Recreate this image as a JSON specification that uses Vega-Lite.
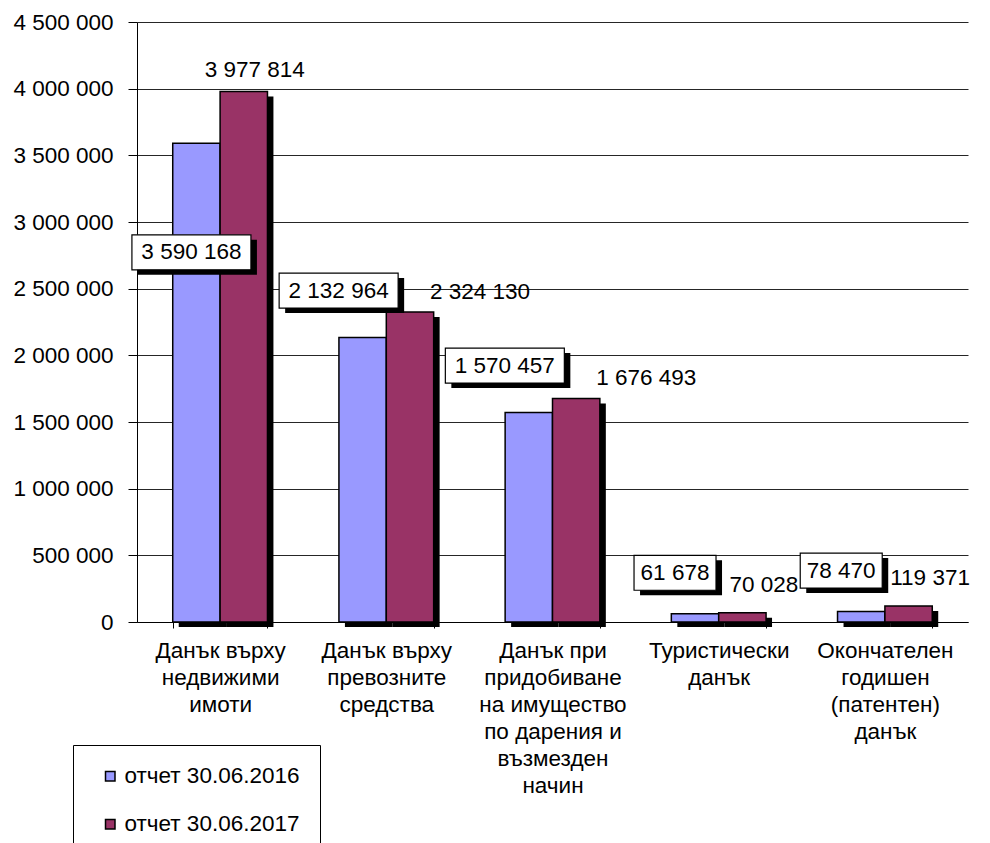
{
  "$schema": "https://vega.github.io/schema/vega-lite/v6.json",
  "width": 831,
  "height": 600,
  "autosize": "none",
  "padding": {"left": 137, "top": 22, "right": 22, "bottom": 221},
  "background": "white",
  "config": {
    "font": "Liberation Sans",
    "view": {"stroke": null},
    "axis": {"labelFont": "Liberation Sans", "labelColor": "#000", "domainColor": "#000", "tickColor": "#000"},
    "text": {"fontSize": 22.5, "color": "#000", "align": "center", "baseline": "middle"},
    "point": {"filled": true, "opacity": 1, "size": 14161}
  },
  "data": {
    "values": [
      {"cat": "Данък върху|недвижими|имоти", "series": "отчет 30.06.2016", "v": 3590168},
      {"cat": "Данък върху|недвижими|имоти", "series": "отчет 30.06.2017", "v": 3977814},
      {"cat": "Данък върху|превозните|средства", "series": "отчет 30.06.2016", "v": 2132964},
      {"cat": "Данък върху|превозните|средства", "series": "отчет 30.06.2017", "v": 2324130},
      {"cat": "Данък при|придобиване|на имущество|по дарения и|възмезден|начин", "series": "отчет 30.06.2016", "v": 1570457},
      {"cat": "Данък при|придобиване|на имущество|по дарения и|възмезден|начин", "series": "отчет 30.06.2017", "v": 1676493},
      {"cat": "Туристически|данък", "series": "отчет 30.06.2016", "v": 61678},
      {"cat": "Туристически|данък", "series": "отчет 30.06.2017", "v": 70028},
      {"cat": "Окончателен|годишен|(патентен)|данък", "series": "отчет 30.06.2016", "v": 78470},
      {"cat": "Окончателен|годишен|(патентен)|данък", "series": "отчет 30.06.2017", "v": 119371}
    ]
  },
  "transform": [
    {"calculate": "replace(replace(format(datum.v, ','), ',', ' '), ',', ' ')", "as": "label"}
  ],
  "resolve": {"scale": {"xOffset": "independent"}},
  "encoding": {
    "x": {
      "field": "cat", "type": "nominal", "sort": null,
      "scale": {"paddingInner": 0.43, "paddingOuter": 0.215},
      "axis": {
        "title": null, "labelAngle": 0, "labelFontSize": 22.5, "labelLineHeight": 27,
        "labelPadding": 11, "labelBaseline": "top", "tickSize": 6, "tickBand": "extent",
        "labelExpr": "split(datum.label, '|')", "domainWidth": 1
      }
    },
    "xOffset": {"field": "series", "type": "nominal", "sort": null, "scale": {"domain": ["отчет 30.06.2016", "отчет 30.06.2017"]}},
    "y": {
      "field": "v", "type": "quantitative",
      "scale": {"domain": [0, 4500000], "nice": false},
      "axis": {
        "title": null, "values": [0, 500000, 1000000, 1500000, 2000000, 2500000, 3000000, 3500000, 4000000, 4500000],
        "grid": true, "gridColor": "#000", "gridWidth": 1, "gridOpacity": 0.85,
        "tickSize": 9, "labelPadding": 15, "labelFontSize": 22.5,
        "labelExpr": "replace(replace(format(datum.value, ','), ',', ' '), ',', ' ')"
      }
    }
  },
  "layer": [
    {
      "mark": {"type": "bar", "color": "#000", "yOffset": 5, "y2Offset": 0},
      "encoding": {
        "xOffset": {"field": "series", "type": "nominal", "sort": null, "scale": {"domain": ["отчет 30.06.2016", "отчет 30.06.2017"], "range": [6, 100.7]}}
      }
    },
    {
      "mark": {"type": "bar", "stroke": "#000", "strokeWidth": 1.5},
      "encoding": {
        "color": {
          "field": "series", "type": "nominal",
          "scale": {"domain": ["отчет 30.06.2016", "отчет 30.06.2017"], "range": ["#9999FF", "#993366"]},
          "legend": {
            "title": null, "orient": "none", "legendX": -64, "legendY": 723,
            "symbolType": "square", "symbolSize": 90, "symbolStrokeColor": "#000", "symbolStrokeWidth": 1.5,
            "labelFontSize": 22.5, "labelFont": "Liberation Sans", "labelColor": "#000", "labelOffset": 3, "labelLimit": 400,
            "padding": 20, "symbolOffset": 6, "rowPadding": 25,
            "strokeColor": "#000", "fillColor": "white"
          }
        }
      }
    },
    {
      "transform": [{"filter": "datum.series == 'отчет 30.06.2016' && datum.v > 3000000"}],
      "layer": [
        {"mark": {"type": "point", "fill": "#000", "strokeWidth": 0, "shape": "M-0.983,-0.21L1.017,-0.21L1.017,0.378L-0.983,0.378Z"}, "encoding": {"yOffset": {"value": 109}}},
        {"mark": {"type": "point", "fill": "white", "stroke": "#000", "strokeWidth": 1.2, "shape": "M-1.084,-0.294L0.916,-0.294L0.916,0.294L-1.084,0.294Z"}, "encoding": {"yOffset": {"value": 109}}},
        {"mark": {"type": "text", "dx": -5, "dy": 109}, "encoding": {"text": {"field": "label"}}}
      ]
    },
    {
      "transform": [{"filter": "datum.series == 'отчет 30.06.2016' && datum.v >= 1000000 && datum.v <= 3000000"}],
      "layer": [
        {"mark": {"type": "point", "fill": "#000", "strokeWidth": 0, "shape": "M-1.302,-0.21L0.698,-0.21L0.698,0.378L-1.302,0.378Z"}, "encoding": {"yOffset": {"value": -47}}},
        {"mark": {"type": "point", "fill": "white", "stroke": "#000", "strokeWidth": 1.2, "shape": "M-1.403,-0.294L0.597,-0.294L0.597,0.294L-1.403,0.294Z"}, "encoding": {"yOffset": {"value": -47}}},
        {"mark": {"type": "text", "dx": -24, "dy": -47}, "encoding": {"text": {"field": "label"}}}
      ]
    },
    {
      "transform": [{"filter": "datum.series == 'отчет 30.06.2016' && datum.v < 1000000"}],
      "layer": [
        {"mark": {"type": "point", "fill": "#000", "strokeWidth": 0, "shape": "M-0.924,-0.21L0.454,-0.21L0.454,0.378L-0.924,0.378Z"}, "encoding": {"yOffset": {"value": -41}}},
        {"mark": {"type": "point", "fill": "white", "stroke": "#000", "strokeWidth": 1.2, "shape": "M-1.025,-0.294L0.353,-0.294L0.353,0.294L-1.025,0.294Z"}, "encoding": {"yOffset": {"value": -41}}},
        {"mark": {"type": "text", "dx": -20, "dy": -41}, "encoding": {"text": {"field": "label"}}}
      ]
    },
    {
      "transform": [{"filter": "datum.series == 'отчет 30.06.2017' && datum.v > 3000000"}],
      "mark": {"type": "text", "dx": 11, "dy": -22},
      "encoding": {"text": {"field": "label"}}
    },
    {
      "transform": [{"filter": "datum.series == 'отчет 30.06.2017' && datum.v >= 1000000 && datum.v <= 3000000"}],
      "mark": {"type": "text", "dx": 70, "dy": -20},
      "encoding": {"text": {"field": "label"}}
    },
    {
      "transform": [{"filter": "datum.series == 'отчет 30.06.2017' && datum.v < 1000000"}],
      "mark": {"type": "text", "dx": 21.5, "dy": -28},
      "encoding": {"text": {"field": "label"}}
    }
  ]
}
